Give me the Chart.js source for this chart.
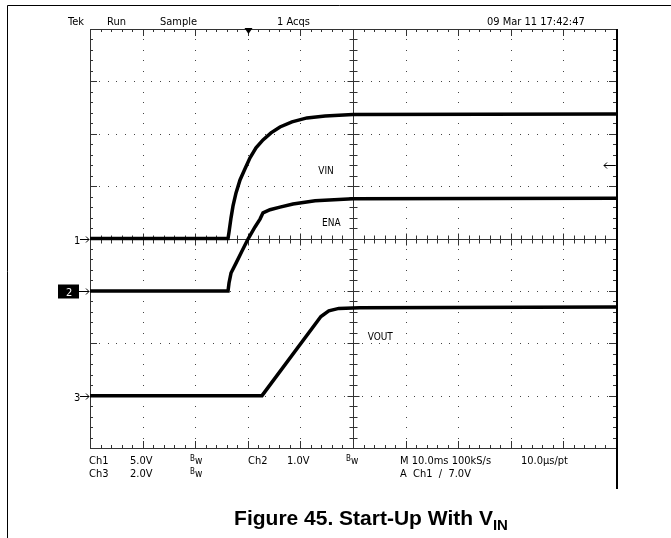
<!DOCTYPE html>
<html>
<head>
<meta charset="utf-8">
<script src="https://cdn.jsdelivr.net/npm/chart.js@4.4.1/dist/chart.umd.min.js"></script>
<style>
  html, body { margin: 0; padding: 0; background: #fff; }
  canvas { display: block; }
</style>
</head>
<body>
<canvas id="scope" width="671" height="538"></canvas>
<script>
// time in ms relative to the trigger point, levels in volts
const vinTime   = [-30, -3.76, -3.57, -3.19, -2.81, -2.24, -1.48, -0.53, 0.42, 1.56, 2.89, 4.41, 6.12, 8.40, 11.25, 14.7, 20.0, 70];
const vinVolts  = [0, 0, 0.63, 1.97, 3.11, 4.35, 5.59, 6.65, 7.7, 8.65, 9.41, 10.08, 10.65, 11.13, 11.51, 11.70, 11.84, 11.89];

const enaTime   = [-30, -3.76, -3.57, -3.19, -2.24, -1.10, 0.04, 1.37, 2.32, 2.89, 4.22, 6.12, 8.59, 12.8, 20.0, 70];
const enaVolts  = [0, 0, 0.15, 0.34, 0.53, 0.76, 0.99, 1.22, 1.37, 1.49, 1.55, 1.60, 1.66, 1.72, 1.76, 1.77];

const voutTime  = [-30, 2.7, 13.9, 15.4, 17.3, 21.3, 70];
const voutVolts = [0, 0, 3.02, 3.24, 3.33, 3.36, 3.38];

// scope settings per channel: Ch1 VIN, Ch2 ENA, Ch3 VOUT
const traceNames  = ['VIN', 'ENA', 'VOUT'];
const voltsPerDiv = [5, 1, 2];
const groundDiv   = [0, -1, -3];
const triggerVolts = 7.0;

function toPoints(times, volts, ch) {
    return times.map((t, i) => ({ x: t, y: groundDiv[ch] + volts[i] / voltsPerDiv[ch] }));
}

const narrow = '"Liberation Sans Narrow", "DejaVu Sans Condensed", "Liberation Sans", sans-serif';

// Tek style graticule: dotted divisions, tick-marked centre cross and frame
const graticule = {
    id: 'graticule',
    beforeDatasetsDraw(chart) {
        const { ctx, chartArea: a, scales: { x, y } } = chart;
        const px = v => Math.round(x.getPixelForValue(v));
        const py = v => Math.round(y.getPixelForValue(v));
        ctx.save();
        ctx.fillStyle = '#444';

        // dotted lines
        for (let t = -20; t <= 60; t += 10) {
            if (t === 20) continue;
            for (let d = -4; d <= 4.001; d += 0.2) ctx.fillRect(px(t), py(d), 1, 1);
        }
        for (let d = -3; d <= 3; d++) {
            if (d === 0) continue;
            for (let t = -30; t <= 70.001; t += 10 / 6) ctx.fillRect(px(t), py(d), 1, 1);
        }

        ctx.strokeStyle = '#333';
        ctx.lineWidth = 1;
        ctx.beginPath();
        // frame
        ctx.rect(a.left + 0.5, a.top + 0.5, a.right - a.left, a.bottom - a.top);
        // centre cross
        const cx = px(20) + 0.5, cy = py(0) + 0.5;
        ctx.moveTo(cx, a.top); ctx.lineTo(cx, a.bottom);
        ctx.moveTo(a.left, cy); ctx.lineTo(a.right, cy);

        // ticks along x
        for (let i = 0; i <= 50; i++) {
            const t = -30 + i * 2;
            const xx = px(t) + 0.5;
            const major = i % 5 === 0;
            const len = major ? 7 : 3;
            ctx.moveTo(xx, a.top); ctx.lineTo(xx, a.top + len);
            ctx.moveTo(xx, a.bottom); ctx.lineTo(xx, a.bottom - len);
            const c = major ? 6 : 4;
            ctx.moveTo(xx, cy - c); ctx.lineTo(xx, cy + c);
        }
        // ticks along y
        for (let i = 0; i <= 40; i++) {
            const d = -4 + i * 0.2;
            const yy = py(d) + 0.5;
            const major = i % 5 === 0;
            const len = major ? 7 : 3;
            ctx.moveTo(a.left, yy); ctx.lineTo(a.left + len, yy);
            ctx.moveTo(a.right, yy); ctx.lineTo(a.right - len, yy);
            const c = major ? 6 : 4;
            ctx.moveTo(cx - c, yy); ctx.lineTo(cx + c, yy);
        }
        ctx.stroke();

        // trigger position marker
        const tx = px(0) + 0.5;
        ctx.fillStyle = '#000';
        ctx.beginPath();
        ctx.moveTo(tx - 4, a.top - 1);
        ctx.lineTo(tx + 4, a.top - 1);
        ctx.lineTo(tx, a.top + 5);
        ctx.closePath();
        ctx.fill();
        ctx.restore();
    }
};

function arrow(ctx, x0, x1, yy) {
    ctx.beginPath();
    ctx.moveTo(x0, yy); ctx.lineTo(x1, yy);
    const dir = Math.sign(x1 - x0);
    ctx.moveTo(x1 - dir * 3, yy - 3); ctx.lineTo(x1, yy); ctx.lineTo(x1 - dir * 3, yy + 3);
    ctx.stroke();
}

// readouts, channel markers, trace names and the figure caption
const annotations = {
    id: 'annotations',
    afterDraw(chart) {
        const { ctx, chartArea: a, scales: { x, y } } = chart;
        ctx.save();
        ctx.fillStyle = '#000';
        ctx.strokeStyle = '#000';
        ctx.textBaseline = 'alphabetic';
        ctx.font = '11px ' + narrow;

        // header line
        ctx.fillText('Tek', 68, 25);
        ctx.fillText('Run', 107, 25);
        ctx.fillText('Sample', 160, 25);
        ctx.fillText('1 Acqs', 277, 25);
        ctx.fillText('09 Mar 11 17:42:47', 487, 25);

        // settings readout
        const bw = (xx, yy) => {
            ctx.font = '8px ' + narrow;
            ctx.fillText('B', xx, yy - 3);
            ctx.font = '10px ' + narrow;
            ctx.fillText('w', xx + 5, yy);
            ctx.font = '11px ' + narrow;
        };
        ctx.fillText('Ch1', 89, 464);
        ctx.fillText('5.0V', 130, 464);
        bw(190, 464);
        ctx.fillText('Ch2', 248, 464);
        ctx.fillText('1.0V', 287, 464);
        bw(346, 464);
        ctx.fillText('M 10.0ms 100kS/s', 400, 464);
        ctx.fillText('10.0\u00b5s/pt', 521, 464);
        ctx.fillText('Ch3', 89, 477);
        ctx.fillText('2.0V', 130, 477);
        bw(190, 477);
        ctx.fillText('A  Ch1  \u2215  ' + triggerVolts.toFixed(1) + 'V', 400, 477);

        // ground markers
        ctx.lineWidth = 1;
        const g1 = Math.round(y.getPixelForValue(groundDiv[0])) + 0.5;
        const g2 = Math.round(y.getPixelForValue(groundDiv[1])) + 0.5;
        const g3 = Math.round(y.getPixelForValue(groundDiv[2])) + 0.5;
        ctx.fillText('1', 74, g1 + 4);
        arrow(ctx, 80, a.left - 1, g1);
        ctx.fillRect(58, g2 - 7, 21, 14);
        ctx.fillStyle = '#fff';
        ctx.fillText('2', 66, g2 + 4);
        ctx.fillStyle = '#000';
        arrow(ctx, 78, a.left - 1, g2);
        ctx.fillText('3', 74, g3 + 4);
        arrow(ctx, 80, a.left - 1, g3);

        // trigger level marker
        const tl = Math.round(y.getPixelForValue(groundDiv[0] + triggerVolts / voltsPerDiv[0])) + 0.5;
        arrow(ctx, a.right - 1, a.right - 12, tl);

        // trace names
        ctx.font = '10px ' + narrow;
        ctx.fillText(traceNames[0], x.getPixelForValue(13.4), y.getPixelForValue(1.23));
        ctx.fillText(traceNames[1], x.getPixelForValue(14.1), y.getPixelForValue(0.24));
        ctx.fillText(traceNames[2], x.getPixelForValue(22.8), y.getPixelForValue(-1.94));

        // page frame and right rule
        ctx.lineWidth = 1;
        ctx.beginPath();
        ctx.moveTo(7.5, 538); ctx.lineTo(7.5, 5.5); ctx.lineTo(671, 5.5);
        ctx.stroke();
        ctx.lineWidth = 2;
        ctx.beginPath();
        ctx.moveTo(a.right + 1, a.top); ctx.lineTo(a.right + 1, 489);
        ctx.stroke();

        // caption
        const capFont = 'bold 21px "Liberation Sans", Arial, sans-serif';
        const subFont = 'bold 15px "Liberation Sans", Arial, sans-serif';
        const main = 'Figure 45. Start-Up With V';
        ctx.font = capFont;
        const w1 = ctx.measureText(main).width;
        ctx.font = subFont;
        const w2 = ctx.measureText('IN').width;
        const left = 371 - (w1 + w2) / 2;
        ctx.font = capFont;
        ctx.fillText(main, left, 525);
        ctx.font = subFont;
        ctx.fillText('IN', left + w1, 530);
        ctx.restore();
    }
};

const traceStyle = {
    borderColor: '#000',
    borderWidth: 3.5,
    pointRadius: 0,
    fill: false,
    tension: 0
};

new Chart(document.getElementById('scope'), {
    type: 'line',
    data: {
        datasets: [
            { label: traceNames[0], data: toPoints(vinTime, vinVolts, 0), ...traceStyle },
            { label: traceNames[1], data: toPoints(enaTime, enaVolts, 1), ...traceStyle },
            { label: traceNames[2], data: toPoints(voutTime, voutVolts, 2), ...traceStyle }
        ]
    },
    options: {
        responsive: false,
        animation: false,
        devicePixelRatio: 1,
        layout: { padding: { left: 90, right: 55, top: 29, bottom: 90 } },
        plugins: {
            legend: { display: false },
            tooltip: { enabled: false }
        },
        scales: {
            x: { type: 'linear', min: -30, max: 70, display: false },
            y: { type: 'linear', min: -4, max: 4, display: false }
        }
    },
    plugins: [graticule, annotations]
});
</script>
</body>
</html>
